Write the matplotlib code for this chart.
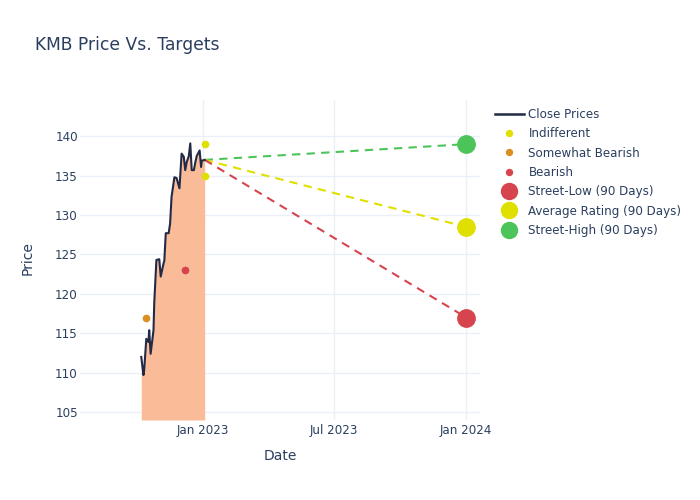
import pandas as pd
import matplotlib.pyplot as plt
import matplotlib.dates as mdates
from matplotlib.lines import Line2D

# closing prices
close_dates = ['2022-10-07', '2022-10-10', '2022-10-11', '2022-10-14', '2022-10-17', '2022-10-18',
               '2022-10-20', '2022-10-24', '2022-10-25', '2022-10-28', '2022-11-01', '2022-11-03',
               '2022-11-07', '2022-11-08', '2022-11-10', '2022-11-14', '2022-11-16', '2022-11-18',
               '2022-11-22', '2022-11-25', '2022-11-29', '2022-12-02', '2022-12-05', '2022-12-07',
               '2022-12-09', '2022-12-12', '2022-12-14', '2022-12-16', '2022-12-19', '2022-12-21',
               '2022-12-23', '2022-12-27', '2022-12-29', '2022-12-30', '2023-01-03']
close_prices = [112.0, 109.7, 110.3, 114.3, 113.9, 115.4,
                112.4, 115.4, 118.8, 124.3, 124.4, 122.2,
                123.9, 124.2, 127.7, 127.7, 128.9, 132.3,
                134.8, 134.7, 133.4, 137.8, 137.4, 135.7,
                136.7, 137.5, 139.1, 135.7, 135.7, 136.7,
                137.5, 138.2, 136.1, 136.9, 137.0]

indifferent_dates = ['2023-01-04', '2023-01-04']
indifferent_values = [139, 135]
somewhat_bearish_dates = ['2022-10-13']
somewhat_bearish_values = [117]
bearish_dates = ['2022-12-06']
bearish_values = [123]

target_date = '2024-01-01'
street_low = 117
average_rating = 128.5
street_high = 139

text_color = '#2a3f5f'
c_low = '#d6454d'
c_avg = '#dfe000'
c_high = '#4cc45a'

plt.rcParams['font.family'] = 'DejaVu Sans'

fig = plt.figure(figsize=(7, 5), dpi=100)
ax = fig.add_axes([80 / 700, 80 / 500, 400 / 700, 320 / 500])

y_bottom = 104
cd = pd.to_datetime(close_dates)
ax.fill_between(cd, close_prices, y_bottom, color='#f9bb98', linewidth=0, zorder=1)
ax.plot(cd, close_prices, color='#222a45', linewidth=1.5, zorder=3)

# dashed lines from the last close to each target
start_d = cd[-1]
start_p = close_prices[-1]
td = pd.Timestamp(target_date)
for val, col in [(street_high, c_high), (average_rating, c_avg), (street_low, c_low)]:
    ax.plot([start_d, td], [start_p, val], color=col, linewidth=1.5, dashes=(4, 3), zorder=2)

ax.plot(pd.to_datetime(indifferent_dates), indifferent_values, 'o', color=c_avg, markersize=4.5, zorder=4)
ax.plot(pd.to_datetime(somewhat_bearish_dates), somewhat_bearish_values, 'o', color='#da8f22', markersize=4.5, zorder=4)
ax.plot(pd.to_datetime(bearish_dates), bearish_values, 'o', color=c_low, markersize=4.5, zorder=4)

ax.plot([td], [street_low], 'o', color=c_low, markersize=12.5, zorder=5)
ax.plot([td], [average_rating], 'o', color=c_avg, markersize=12.5, zorder=5)
ax.plot([td], [street_high], 'o', color=c_high, markersize=12.5, zorder=5)

ax.set_xlim(pd.Timestamp('2022-07-14'), pd.Timestamp('2024-01-20'))
ax.set_ylim(y_bottom, 144.6)
ax.set_xticks(pd.to_datetime(['2023-01-01', '2023-07-01', '2024-01-01']))
ax.xaxis.set_major_formatter(mdates.DateFormatter('%b %Y'))
ax.set_yticks(range(105, 141, 5))

for s in ax.spines.values():
    s.set_visible(False)
ax.grid(True, color='#ebf0f8', linewidth=1)
ax.set_axisbelow(True)
ax.tick_params(length=0, labelsize=8.6, colors=text_color)
ax.tick_params(axis='x', pad=3)
ax.tick_params(axis='y', pad=1.5)

fig.text(280 / 700, 1 - 456 / 500, 'Date', fontsize=10, color=text_color, ha='center', va='center')
fig.text(28 / 700, 1 - 258 / 500, 'Price', fontsize=10, color=text_color, ha='center', va='center', rotation=90)
fig.text(35 / 700, 1 - 45 / 500, 'KMB Price Vs. Targets', fontsize=12.3, color=text_color, ha='left', va='center')

handles = [
    Line2D([], [], color='#222a45', linewidth=1.8),
    Line2D([], [], marker='o', linestyle='', color=c_avg, markersize=4.3),
    Line2D([], [], marker='o', linestyle='', color='#da8f22', markersize=4.3),
    Line2D([], [], marker='o', linestyle='', color=c_low, markersize=4.3),
    Line2D([], [], marker='o', linestyle='', color=c_low, markersize=11.5),
    Line2D([], [], marker='o', linestyle='', color=c_avg, markersize=11.5),
    Line2D([], [], marker='o', linestyle='', color=c_high, markersize=11.5),
]
labels = ['Close Prices', 'Indifferent', 'Somewhat Bearish', 'Bearish',
          'Street-Low (90 Days)', 'Average Rating (90 Days)', 'Street-High (90 Days)']
leg = fig.legend(handles, labels, loc='upper left', bbox_to_anchor=(495 / 700, 1 - 108 / 500),
                 frameon=False, fontsize=8.6, labelspacing=0.53, handlelength=2.4,
                 handletextpad=0.4, borderaxespad=0, borderpad=0)
for t in leg.get_texts():
    t.set_color(text_color)

plt.savefig('out.png', dpi=100)
plt.close()
